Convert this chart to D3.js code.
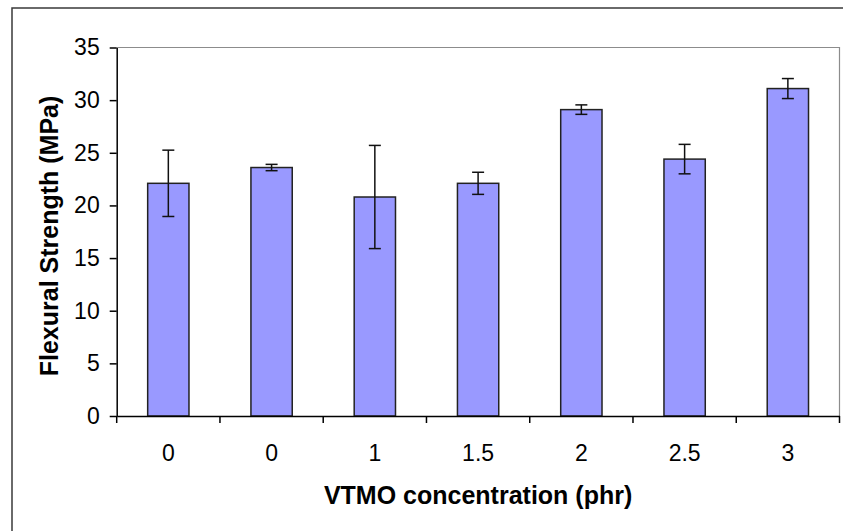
<!DOCTYPE html>
<html>
<head>
<meta charset="utf-8">
<script src="https://cdn.jsdelivr.net/npm/d3@7"></script>
<style>
  body { margin: 0; background: #fff; }
  text { font-family: "Liberation Sans", Arial, sans-serif; }
</style>
</head>
<body>
<svg width="843" height="531"></svg>
<script>
// VTMO concentration categories (phr)
var categories = ["0", "0", "1", "1.5", "2", "2.5", "3"];
// flexural strength means (MPa)
var values = [22.1, 23.6, 20.8, 22.1, 29.1, 24.4, 31.1];
// error (+/-)
var errors = [3.15, 0.3, 4.9, 1.05, 0.45, 1.4, 0.95];
var yTicks = [0, 5, 10, 15, 20, 25, 30, 35];

var svg = d3.select("svg");

//outer chart frame
svg.append("path")
    .attr("d", "M12,531V8H843")
    .attr("fill", "none")
    .attr("stroke", "#3a3a3a")
    .attr("stroke-width", 1.5);

var plotLeft = 116.7, plotRight = 839.5, plotTop = 47.5, plotBottom = 416;

var x = d3.scaleBand()
    .domain(d3.range(categories.length))
    .range([plotLeft, plotRight])
    .padding(0);

var y = d3.scaleLinear()
    .domain([0, 35])
    .range([plotBottom, plotTop]);

//plot area border (top and right, grey)
svg.append("path")
    .attr("d", "M" + plotLeft + "," + plotTop + "H" + plotRight + "V" + plotBottom)
    .attr("fill", "none")
    .attr("stroke", "#8c8c8c")
    .attr("stroke-width", 1.2);

//bars
var bw = x.bandwidth() * 0.4;
svg.selectAll(".bar")
    .data(values)
    .enter().append("rect")
    .attr("class", "bar")
    .attr("x", function(d, i) { return x(i) + (x.bandwidth() - bw) / 2; })
    .attr("y", function(d) { return y(d); })
    .attr("width", bw)
    .attr("height", function(d) { return y(0) - y(d); })
    .attr("fill", "#9999ff")
    .attr("stroke", "#222")
    .attr("stroke-width", 1.5);

//error bars
var eb = svg.append("g")
    .attr("stroke", "#111")
    .attr("stroke-width", 1.5)
    .attr("fill", "none");
values.forEach(function(v, i) {
    var cx = x(i) + x.bandwidth() / 2;
    var hi = y(v + errors[i]), lo = y(v - errors[i]);
    eb.append("line").attr("x1", cx).attr("x2", cx).attr("y1", hi).attr("y2", lo);
    eb.append("line").attr("x1", cx - 6).attr("x2", cx + 6).attr("y1", hi).attr("y2", hi);
    eb.append("line").attr("x1", cx - 6).attr("x2", cx + 6).attr("y1", lo).attr("y2", lo);
});

//y axis
var yAxis = svg.append("g")
    .attr("transform", "translate(" + plotLeft + ",0)")
    .call(d3.axisLeft(y).tickValues(yTicks).tickSize(7).tickSizeOuter(0).tickPadding(10));
yAxis.select(".domain").attr("stroke", "#000").attr("stroke-width", 1.5);
yAxis.selectAll(".tick line").attr("stroke", "#000").attr("stroke-width", 1.5);
yAxis.selectAll(".tick text")
    .attr("font-size", 23)
    .attr("fill", "#000")
    .attr("font-family", "Liberation Sans, Arial, sans-serif");

//x axis with labels centred in each band
var xAxis = svg.append("g")
    .attr("transform", "translate(0," + plotBottom + ")")
    .call(d3.axisBottom(x).tickSize(0).tickSizeOuter(0).tickPadding(29)
        .tickFormat(function(i) { return categories[i]; }));
xAxis.select(".domain").attr("stroke", "#000").attr("stroke-width", 1.5);
xAxis.selectAll(".tick text")
    .attr("font-size", 23)
    .attr("fill", "#000")
    .attr("font-family", "Liberation Sans, Arial, sans-serif");

//category boundary ticks
var bounds = d3.range(categories.length).map(function(i) { return x(i); }).concat([x.range()[1]]);
svg.append("g").selectAll("line")
    .data(bounds)
    .enter().append("line")
    .attr("x1", function(d) { return d; })
    .attr("x2", function(d) { return d; })
    .attr("y1", plotBottom)
    .attr("y2", plotBottom + 7)
    .attr("stroke", "#000")
    .attr("stroke-width", 1.5);

//axis titles
svg.append("text")
    .attr("x", (plotLeft + plotRight) / 2)
    .attr("y", 504)
    .attr("text-anchor", "middle")
    .attr("font-size", 25)
    .attr("font-weight", "bold")
    .text("VTMO concentration (phr)");

svg.append("text")
    .attr("transform", "translate(58,236) rotate(-90)")
    .attr("text-anchor", "middle")
    .attr("font-size", 25)
    .attr("font-weight", "bold")
    .text("Flexural Strength (MPa)");
</script>
</body>
</html>
